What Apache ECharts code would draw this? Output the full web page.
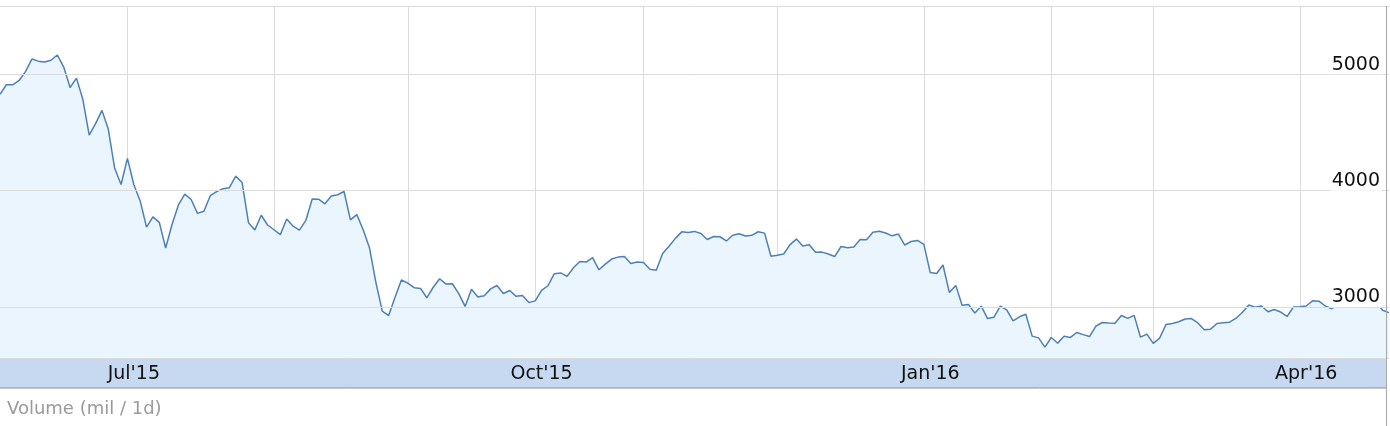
<!DOCTYPE html>
<html>
<head>
<meta charset="utf-8">
<title>Volume</title>
<script src="https://cdn.jsdelivr.net/npm/echarts@6/dist/echarts.min.js"></script>
<style>
  html, body { margin: 0; padding: 0; background: #fff; }
  #chart { width: 1390px; height: 426px; }
</style>
</head>
<body>
<div id="chart"></div>
<script>
// daily closes, one array per month (trading days only)
var jun15 = [4828, 4910, 4910, 4947, 5023, 5131, 5113, 5106, 5121, 5166, 5062, 4887, 4967, 4785, 4478, 4576, 4690, 4527, 4192, 4053, 4277]
var jul15 = [4053, 3912, 3687, 3775, 3727, 3507, 3709, 3877, 3970, 3924, 3805, 3823, 3957, 3992, 4017, 4026, 4124, 4070, 3725, 3663, 3789, 3705, 3664]
var aug15 = [3622, 3756, 3695, 3661, 3744, 3928, 3927, 3887, 3955, 3965, 3993, 3749, 3794, 3664, 3507, 3210, 2965, 2927, 3084, 3232, 3206]
var sep15 = [3166, 3160, 3080, 3170, 3243, 3197, 3200, 3115, 3005, 3152, 3086, 3097, 3156, 3185, 3116, 3142, 3092, 3100, 3038, 3053]
var oct15 = [3143, 3183, 3287, 3293, 3263, 3338, 3391, 3386, 3425, 3320, 3369, 3412, 3429, 3434, 3375, 3387, 3382]
var nov15 = [3325, 3316, 3460, 3522, 3590, 3646, 3640, 3650, 3632, 3580, 3606, 3604, 3568, 3617, 3630, 3610, 3616, 3647, 3635, 3436, 3445]
var dec15 = [3456, 3536, 3584, 3524, 3536, 3470, 3472, 3456, 3434, 3520, 3510, 3516, 3580, 3578, 3642, 3651, 3636, 3612, 3627, 3533, 3563, 3572, 3539]
var jan16 = [3296, 3288, 3361, 3125, 3186, 3016, 3022, 2949, 3007, 2901, 2913, 3007, 2976, 2881, 2916, 2938, 2750, 2735, 2656, 2738]
var feb16 = [2689, 2749, 2739, 2781, 2763, 2746, 2836, 2867, 2862, 2860, 2927, 2903, 2928, 2741, 2767, 2688]
var mar16 = [2733, 2850, 2859, 2874, 2897, 2901, 2863, 2804, 2810, 2859, 2864, 2870, 2904, 2955, 3018, 2999, 3009, 2960, 2979, 2957, 2919, 3000, 3003]
var apr16 = [3009, 3053, 3050, 3009, 2985, 3034, 3023, 3066, 3082, 3078, 3033, 3042, 2972, 2952]

var monthNames = ["Jun'15", "Jul'15", "Aug'15", "Sep'15", "Oct'15", "Nov'15", "Dec'15", "Jan'16", "Feb'16", "Mar'16", "Apr'16"]
var monthData = [jun15, jul15, aug15, sep15, oct15, nov15, dec15, jan16, feb16, mar16, apr16]
var tickLabels = ["Jul'15", "Oct'15", "Jan'16", "Apr'16"]
var yTicks = [3000, 4000, 5000]

var days = []
var values = []
var monthEnds = {}
for (var m = 0; m < monthData.length; m++) {
  for (var k = 0; k < monthData[m].length; k++) {
    days.push(monthNames[m] + '#' + k)
    values.push(monthData[m][k])
  }
  if (m < monthData.length - 1) monthEnds[days.length - 1] = true
}

function isMonthEnd (idx) {
  return monthEnds[idx] === true
}

var chart = echarts.init(document.getElementById('chart'))
var option = {
  animation: false,
  title: {
    text: 'Volume (mil / 1d)',
    left: 2,
    top: 395,
    textStyle: { color: '#9a9a9a', fontSize: 18, fontWeight: 'normal', fontFamily: 'DejaVu Sans' }
  },
  grid: { left: 0, right: 1, top: 6, bottom: 68 },
  graphic: [
    {
      type: 'rect',
      z: -10,
      shape: { x: 0, y: 358, width: 1386, height: 30 },
      style: { fill: '#c6d9f1' }
    },
    {
      type: 'line',
      z: -9,
      shape: { x1: 0, y1: 388, x2: 1386, y2: 388 },
      style: { stroke: '#8f8f8f', lineWidth: 1 }
    },
    {
      type: 'line',
      z: 20,
      shape: { x1: 1386.5, y1: 6, x2: 1386.5, y2: 426 },
      style: { stroke: '#a8a8a8', lineWidth: 1 }
    }
  ],
  xAxis: {
    type: 'category',
    boundaryGap: false,
    data: days,
    axisLine: { show: false },
    axisTick: {
      show: true,
      inside: true,
      length: 10,
      interval: isMonthEnd,
      lineStyle: { color: '#a9a9a9' }
    },
    splitLine: {
      show: true,
      interval: isMonthEnd,
      lineStyle: { color: '#dcdcdc', width: 1 }
    },
    axisLabel: {
      margin: 7,
      interval: function (idx, val) {
        var p = val.split('#')
        return p[1] === '0' && tickLabels.indexOf(p[0]) >= 0
      },
      formatter: function (val) {
        return val.split('#')[0]
      },
      color: '#111',
      fontSize: 19,
      fontFamily: 'DejaVu Sans'
    }
  },
  yAxis: {
    type: 'value',
    position: 'right',
    min: 2562,
    max: 5587,
    minInterval: 1000,
    maxInterval: 1000,
    z: 10,
    axisLine: { show: false },
    axisTick: { show: false },
    splitLine: { lineStyle: { color: '#dcdcdc', width: 1 } },
    axisLabel: {
      inside: true,
      margin: 7,
      showMinLabel: false,
      showMaxLabel: false,
      verticalAlign: 'bottom',
      lineHeight: 19,
      color: '#111',
      fontSize: 19,
      fontFamily: 'DejaVu Sans',
      backgroundColor: '#fff',
      padding: [0, 2, 0, 2],
      formatter: function (v) {
        return yTicks.indexOf(v) >= 0 ? String(v) : ''
      }
    }
  },
  series: [
    {
      type: 'line',
      data: values,
      symbol: 'none',
      lineStyle: { color: '#4d80b7', width: 1.5 },
      areaStyle: { color: '#ebf5fd', opacity: 1 }
    }
  ]
}
chart.setOption(option)
</script>
</body>
</html>
